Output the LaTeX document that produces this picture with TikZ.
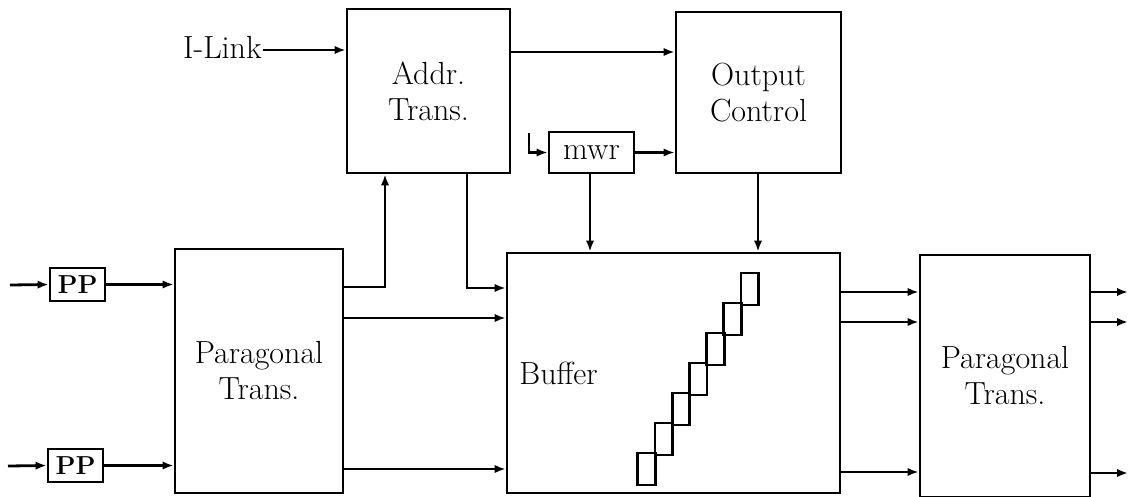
\documentclass[tikz,border=0pt]{standalone}
\usetikzlibrary{arrows.meta}
\begin{document}
\begin{tikzpicture}[x=0.5pt,y=-0.5pt,
  line width=1.4pt,
  txt/.style={font=\fontsize{16}{18}\selectfont, align=center},
  blk/.style={draw, txt, inner sep=0pt},
  ppbox/.style={draw, inner sep=0pt, font=\bfseries\fontsize{13}{14}\selectfont, minimum width=27.5pt, minimum height=16.5pt},
  arr/.style={-{Latex[length=5.5pt,width=4.2pt]}},
  stair/.style={line width=1.4pt}]
\useasboundingbox (0,0) rectangle (1128,497);

% blocks
\node[blk, minimum width=81.5pt, minimum height=82pt] (addr) at (428.5,91) {Addr.\\Trans.};
\node[blk, minimum width=82.5pt, minimum height=80.5pt] (out) at (758.5,92.5) {Output\\Control};
\node[blk, minimum width=42.5pt, minimum height=20.5pt] (mwr) at (591.5,152.5) {mwr};
\node[blk, minimum width=166.5pt, minimum height=120pt] (buf) at (673.5,373) {};
\node[txt, anchor=west, inner sep=0pt] (buftxt) at (518,373) {Buffer};
\node[blk, minimum width=84pt, minimum height=122pt] (parL) at (259,371) {Paragonal\\Trans.};
\node[blk, minimum width=85pt, minimum height=121pt] (parR) at (1005,376) {Paragonal\\Trans.};
\node[ppbox] (pp1) at (77.5,284.5) {PP};
\node[ppbox] (pp2) at (75.5,465.5) {PP};
\node[txt, anchor=east, inner sep=0pt] (ilink) at (263,47) {I-Link};

% helper coordinates
\coordinate (y50) at (0,50);
\coordinate (y52) at (0,52);
\coordinate (y287) at (0,287);
\coordinate (y288) at (0,288);
\coordinate (y292) at (0,292);
\coordinate (y318) at (0,318);
\coordinate (y322) at (0,322);
\coordinate (y469) at (0,469);
\coordinate (y472) at (0,472);
\coordinate (y473) at (0,473);
\coordinate (x385) at (385,0);
\coordinate (x467) at (467,0);
\coordinate (x590) at (590,0);
\coordinate (x758) at (758,0);
\coordinate (mwrin) at (529,133);
\coordinate (in1) at (10,285);
\coordinate (in2) at (8,466);
\coordinate (rEdge) at (1128,0);

% connectors
\draw[arr] (ilink.east |- y50) -- (addr.west |- y50);
\draw[arr] (addr.east |- y52) -- (out.west |- y52);
\draw[arr] (mwrin) |- (mwr.west);
\draw[arr] (mwr.east) -- (mwr.east -| out.west);
\draw[arr] (mwr.south -| x590) -- (buf.north -| x590);
\draw[arr] (out.south -| x758) -- (buf.north -| x758);
\draw[arr] (parL.east |- y287) -| (x385 |- addr.south);
\draw[arr] (x467 |- addr.south) |- (buf.west |- y288);
\draw[arr] (parL.east |- y318) -- (buf.west |- y318);
\draw[arr] (parL.east |- y469) -- (buf.west |- y469);
\draw[arr] (in1) -- (pp1.west);
\draw[arr] (in2) -- (pp2.west);
\draw[arr] (pp1.east) -- (pp1.east -| parL.west);
\draw[arr] (pp2.east) -- (pp2.east -| parL.west);
\draw[arr] (buf.east |- y292) -- (parR.west |- y292);
\draw[arr] (buf.east |- y322) -- (parR.west |- y322);
\draw[arr] (buf.east |- y472) -- (parR.west |- y472);
\draw[arr] (parR.east |- y292) -- (rEdge |- y292);
\draw[arr] (parR.east |- y322) -- (rEdge |- y322);
\draw[arr] (parR.east |- y473) -- (rEdge |- y473);

% staircase inside buffer
\foreach \i in {0,...,6}{
  \draw[stair] ({741-17.2*\i},{273+30*\i}) rectangle ++(17.5,32);
}
\end{tikzpicture}
\end{document}
